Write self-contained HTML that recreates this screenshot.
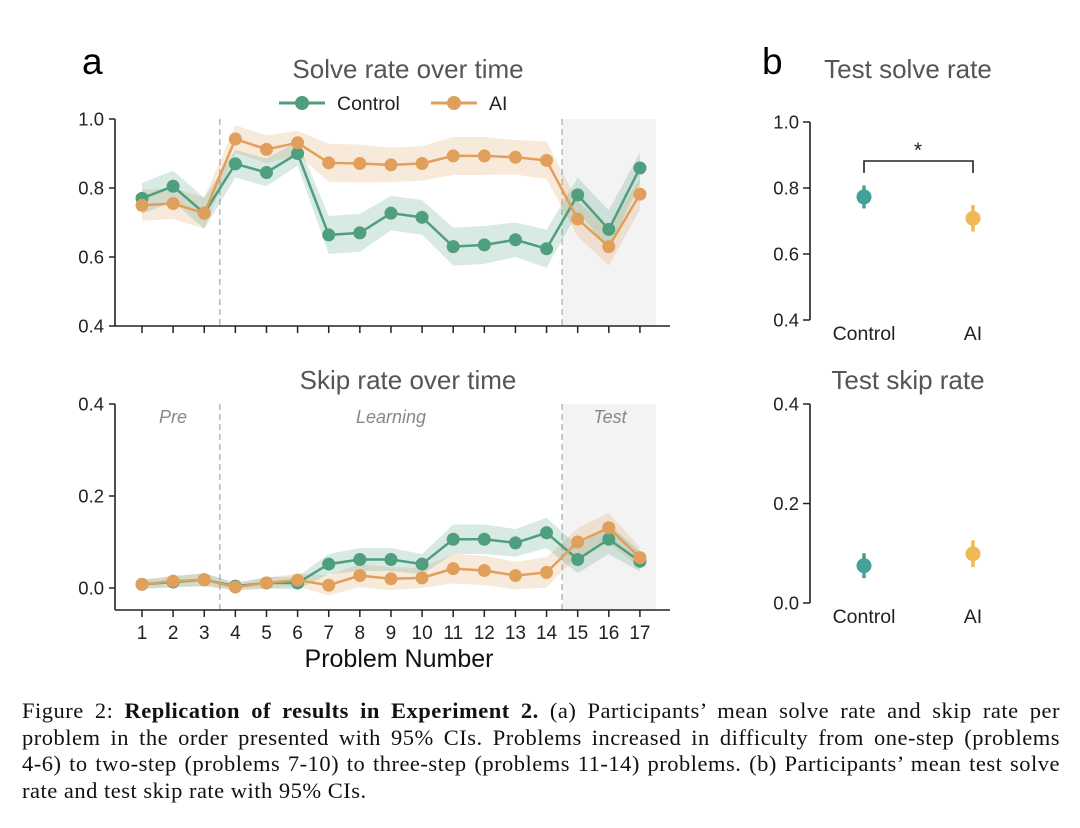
<!DOCTYPE html>
<html><head><meta charset="utf-8">
<style>
body{margin:0;background:#fff;width:1080px;height:828px;overflow:hidden;position:relative;font-family:"Liberation Sans",sans-serif}
#cap{position:absolute;left:22px;top:698px;width:1038px;font-family:"Liberation Serif",serif;font-size:22.5px;letter-spacing:0.5px;line-height:26.5px;color:#111}
#cap div{white-space:nowrap;text-align:justify;text-align-last:justify}
#cap div.last{text-align-last:left}
</style></head><body>
<svg id="fig" width="1080" height="690" style="position:absolute;left:0;top:0" font-family="Liberation Sans, sans-serif"></svg>
<div id="cap"><div>Figure 2: <b>Replication of results in Experiment 2.</b> (a) Participants’ mean solve rate and skip rate per</div><div>problem in the order presented with 95% CIs. Problems increased in difficulty from one-step (problems</div><div>4-6) to two-step (problems 7-10) to three-step (problems 11-14) problems. (b) Participants’ mean test solve</div><div class="last">rate and test skip rate with 95% CIs.</div></div>
<script>
const problems=[1,2,3,4,5,6,7,8,9,10,11,12,13,14,15,16,17];
const solveControl=[0.77,0.805,0.727,0.87,0.845,0.90,0.664,0.67,0.727,0.715,0.63,0.635,0.65,0.624,0.78,0.68,0.858];
const solveAI=[0.75,0.755,0.727,0.942,0.912,0.931,0.873,0.871,0.867,0.871,0.893,0.893,0.889,0.88,0.71,0.63,0.782];
const solveCI=[0.045,0.045,0.045,0.04,0.04,0.035,0.055,0.055,0.05,0.05,0.055,0.055,0.05,0.055,0.05,0.055,0.045];
const skipControl=[0.008,0.013,0.018,0.004,0.011,0.011,0.052,0.062,0.062,0.052,0.106,0.106,0.098,0.12,0.062,0.106,0.058];
const skipAI=[0.008,0.015,0.018,0.002,0.011,0.017,0.006,0.027,0.02,0.022,0.042,0.038,0.027,0.034,0.10,0.131,0.066];
const skipCI=[0.01,0.012,0.014,0.008,0.012,0.014,0.022,0.025,0.025,0.022,0.032,0.032,0.03,0.033,0.03,0.032,0.022];
const solveTicks=[0.4,0.6,0.8,1.0];
const skipTicks=[0.0,0.2,0.4];
const groups=["Control","AI"];
const testSolve=[0.773,0.708];
const testSolveCI=[0.035,0.04];
const testSkip=[0.075,0.099];
const testSkipCI=[0.025,0.027];

const NS="http://www.w3.org/2000/svg";
const svg=document.getElementById('fig');
function mk(tag,attrs,parent,text){const e=document.createElementNS(NS,tag);for(const k in attrs)e.setAttribute(k,attrs[k]);if(text!==undefined)e.textContent=text;(parent||svg).appendChild(e);return e;}
const GREEN="#4f9f7e",ORANGE="#e19f5c",TEAL="#44a09a",YEL="#f1b955";
const xP=p=>142+(p-1)*31.12;

function panel(top,bot,vmin,vmax,ticks,ctrl,ai,ci,axisY,name){
  const y=v=>top+(vmax-v)/(vmax-vmin)*(bot-top);
  const g=mk('g',{});
  
  
  const shade=mk('rect',{x:xP(14.5),y:top,width:656-xP(14.5),height:axisY-top,fill:'#f3f3f3'},g);
  
  [3.5,14.5].forEach(p=>{const l=mk('line',{x1:xP(p),x2:xP(p),y1:top,y2:axisY,stroke:'#b8b8b8','stroke-width':1.5,'stroke-dasharray':'6,4'},g);
    });
  [[ai,ORANGE,'ai'],[ctrl,GREEN,'control']].forEach(([vals,col,nm])=>{
    let up=vals.map((v,i)=>xP(problems[i])+','+y(v+ci[i]));
    let dn=vals.map((v,i)=>xP(problems[i])+','+y(Math.max(v-ci[i],vmin-1))).reverse();
    const band=mk('polygon',{points:up.concat(dn).join(' '),fill:col,'fill-opacity':0.22},g);
    
  });
  [[ctrl,GREEN,'control'],[ai,ORANGE,'ai']].forEach(([vals,col,nm])=>{
    const line=mk('polyline',{points:vals.map((v,i)=>xP(problems[i])+','+y(v)).join(' '),fill:'none',stroke:col,'stroke-width':2.5},g);
    
    vals.forEach((v,i)=>{const c=mk('circle',{cx:xP(problems[i]),cy:y(v),r:6.5,fill:col},g);
      });
  });
  mk('line',{x1:115,x2:115,y1:top,y2:axisY,stroke:'#222','stroke-width':1.6},g);
  mk('line',{x1:115,x2:670,y1:axisY,y2:axisY,stroke:'#222','stroke-width':1.6},g);
  ticks.forEach(t=>{mk('line',{x1:109,x2:115,y1:y(t),y2:y(t),stroke:'#222','stroke-width':1.5},g);
    const tl=mk('text',{x:104,y:y(t)+6.5,'text-anchor':'end','font-size':18.5,fill:'#222'},g,t.toFixed(1));
    });
  problems.forEach(p=>mk('line',{x1:xP(p),x2:xP(p),y1:axisY,y2:axisY+7,stroke:'#222','stroke-width':1.5},g));
  return y;
}
panel(119,326,0.4,1.0,solveTicks,solveControl,solveAI,solveCI,326,'solve-rate-chart');
panel(404,588,0.0,0.4,skipTicks,skipControl,skipAI,skipCI,610,'skip-rate-chart');
problems.forEach(p=>{const t=mk('text',{x:xP(p),y:639,'text-anchor':'middle','font-size':19,fill:'#222'},svg,p);
  });
let t;
t=mk('text',{x:399,y:667,'text-anchor':'middle','font-size':25,fill:'#111'},svg,'Problem Number');
t=mk('text',{x:82,y:74,'font-size':37,fill:'#000'},svg,'a');
t=mk('text',{x:762,y:74,'font-size':37,fill:'#000'},svg,'b');
t=mk('text',{x:408,y:78,'text-anchor':'middle','font-size':26,fill:'#555'},svg,'Solve rate over time');
t=mk('text',{x:408,y:389,'text-anchor':'middle','font-size':26,fill:'#555'},svg,'Skip rate over time');
[['Pre',173],['Learning',391],['Test',610]].forEach(([s,x])=>{const e=mk('text',{x:x,y:423,'text-anchor':'middle','font-size':18,'font-style':'italic',fill:'#888'},svg,s);
  });
// legend
[[GREEN,'Control',279],[ORANGE,'AI',431]].forEach(([c,s,x])=>{const g=mk('g',{});
  
  mk('line',{x1:x,x2:x+46,y1:103,y2:103,stroke:c,'stroke-width':3},g);
  mk('circle',{cx:x+23,cy:103,r:7,fill:c},g);
  mk('text',{x:x+58,y:110,'font-size':19.5,fill:'#222'},g,s);});
// panel b
const gx=[864,973];
function bpanel(top,bot,vmin,vmax,ticks,vals,ci,title,titleY,name){
  const y=v=>top+(vmax-v)/(vmax-vmin)*(bot-top);
  const g=mk('g',{});
  mk('line',{x1:810,x2:810,y1:top,y2:bot,stroke:'#222','stroke-width':1.6},g);
  ticks.forEach(tk=>{mk('line',{x1:803,x2:810,y1:y(tk),y2:y(tk),stroke:'#222','stroke-width':1.5},g);
    mk('text',{x:799,y:y(tk)+6.5,'text-anchor':'end','font-size':18.5,fill:'#222'},g,tk.toFixed(1));});
  vals.forEach((v,i)=>{const col=i?YEL:TEAL;
    const e=mk('line',{x1:gx[i],x2:gx[i],y1:y(v+ci[i]),y2:y(v-ci[i]),stroke:col,'stroke-width':3.5},g);
    
    const c=mk('circle',{cx:gx[i],cy:y(v),r:7.5,fill:col},g);
    
    mk('text',{x:gx[i],y:bot+20,'text-anchor':'middle','font-size':19.5,fill:'#222'},g,groups[i]);});
  mk('text',{x:908,y:titleY,'text-anchor':'middle','font-size':26,fill:'#555'},g,title);
  return y;
}
bpanel(122,320,0.4,1.0,solveTicks,testSolve,testSolveCI,'Test solve rate',78,'test-solve-chart');
bpanel(404,603,0.0,0.4,skipTicks,testSkip,testSkipCI,'Test skip rate',389,'test-skip-chart');
const br=mk('path',{d:'M864 173 V161 H973 V173',fill:'none',stroke:'#222','stroke-width':1.6});

t=mk('text',{x:918,y:157,'text-anchor':'middle','font-size':21,fill:'#222'},svg,'*');
</script>
</body></html>
